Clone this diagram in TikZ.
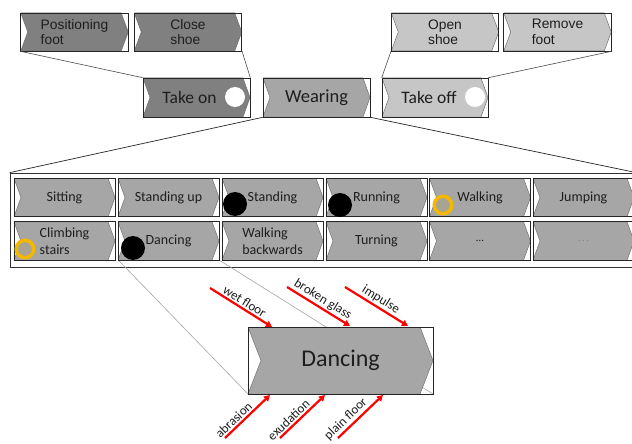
\documentclass[tikz,border=0pt]{standalone}
\usepackage{fontspec}
\setmainfont{Carlito}
\newfontfamily\arialf{Liberation Sans}
\usetikzlibrary{calc,arrows.meta}
\definecolor{dkg}{HTML}{808080}
\definecolor{mdg}{HTML}{A6A6A6}
\definecolor{ltg}{HTML}{C6C6C6}
\definecolor{txt}{HTML}{1E1E1E}
\definecolor{ringy}{HTML}{F5B800}
\definecolor{ringin}{HTML}{A9A394}
\definecolor{arrred}{HTML}{FF0000}
\tikzset{
  chevfill/.store in=\chevfill, chevfill=mdg,
  chevd/.store in=\chevd, chevd=7pt,
  chev/.style={draw=black!85, line width=0.6pt, inner sep=0pt, align=left, text=txt,
    path picture={
      \fill[fill=\chevfill, draw=black!55, line width=0.5pt]
        (path picture bounding box.north west)
        -- ([xshift=-\chevd]path picture bounding box.north east)
        -- (path picture bounding box.east)
        -- ([xshift=-\chevd]path picture bounding box.south east)
        -- (path picture bounding box.south west)
        -- ([xshift=\chevd]path picture bounding box.west) -- cycle;
    }},
  topbox/.style={chev, minimum width=107.5pt, minimum height=38pt, font=\arialf\fontsize{13.8}{15.5}\selectfont},
  midbox/.style={chev, minimum width=107pt, minimum height=39pt, font=\fontsize{17.5}{19}\selectfont},
  cell/.style={chev, minimum width=101pt, minimum height=38.5pt, font=\fontsize{14}{16.5}\selectfont},
  topline/.style={draw=black!70, line width=0.6pt},
  wearline/.style={draw=black!85, line width=0.7pt},
  danceline/.style={draw=black!35, line width=0.6pt},
  wdot/.style={circle, fill=white, minimum size=20pt, inner sep=0pt},
  bdot/.style={circle, fill=black, minimum size=24pt, inner sep=0pt},
  ydot/.style={circle, fill=ringin, draw=ringy, line width=3.5pt, minimum size=17.5pt, inner sep=0pt},
  redarrow/.style={draw=arrred, line width=2.2pt, -{Triangle[length=6pt,width=6.5pt]}},
  rlab/.style={sloped, above, inner sep=1.5pt, font=\fontsize{13}{15}\selectfont, text=txt},
}
\begin{document}
\begin{tikzpicture}[x=1pt, y=-1pt]
\clip (0,0) rectangle (632,444);
\fill[white] (0,0) rectangle (632,444);

% top row
\node[topbox, chevfill=dkg] (posf) at (74.5,32) {Positioning\\foot};
\node[topbox, chevfill=dkg] (close) at (188,32) {Close\\shoe};
\node[topbox, chevfill=ltg] (open) at (445,32) {Open\\shoe};
\node[topbox, chevfill=ltg] (remove) at (557.5,32) {Remove\\foot};

% middle row
\node[midbox, chevfill=dkg] (takeon) at (196.5,97.5) {Take on\hspace{14pt}};
\node[midbox, chevfill=mdg, font=\fontsize{18.5}{20}\selectfont] (wearing) at (316.5,97.5) {Wearing};
\node[midbox, chevfill=ltg, minimum width=106pt] (takeoff) at (435,97.5) {Take off\hspace{12pt}};
\node[wdot] (onDot) at (235,97) {};
\node[wdot] (offDot) at (475,97) {};

% connectors top
\draw[topline] (posf.south west) -- (takeon.north west);
\draw[topline] (close.south east) -- (takeon.north east);
\draw[topline] (open.south west) -- (takeoff.north west);
\draw[topline] (remove.south east) -- (takeoff.north east);

% frame
\node[draw=black!80, line width=0.7pt, minimum width=626pt, minimum height=94pt, inner sep=0pt] (frame) at (323,220) {};
\draw[wearline] (wearing.south west) -- (frame.north west);
\draw[wearline] (wearing.south east) -- (frame.north east);

% dancing connector lines (behind)
\coordinate (dsw) at (248,394);
\coordinate (dse) at (433,394);
\draw[danceline] (118.5,260.3) coordinate (csw) -- (dsw);
\draw[danceline] (219.5,260.3) coordinate (cse) -- (dse);

% cells
\node[cell] (c11) at (64.5,197.5) {Sitting};
\node[cell] (c12) at (168.5,197.5) {Standing up};
\node[cell] (c13) at (272.5,197.5) {Standing};
\node[cell] (c14) at (376.5,197.5) {Running};
\node[cell] (c15) at (480,197.5) {Walking};
\node[cell] (c16) at (583.5,197.5) {Jumping};
\node[cell] (c21) at (64.5,241) {Climbing\\stairs};
\node[cell] (c22) at (168.5,241) {Dancing};
\node[cell] (c23) at (272.5,241) {Walking\\backwards};
\node[cell] (c24) at (376.5,241) {Turning};
\node[cell] (c25) at (480,241) {\fontsize{11}{12}\selectfont\ldots};
\node[cell] (c26) at (583.5,241) {\fontsize{10}{12}\selectfont\textcolor{black!50}{.\,.\,.}};

\node[bdot] (d1) at (235,204) {};
\node[bdot] (d2) at (340,205) {};
\node[bdot] (d3) at (133,248) {};
\node[ydot] (y1) at (443,205) {};
\node[ydot] (y2) at (25,249) {};

% big dancing
\node[chev, chevd=13pt, minimum width=185pt, minimum height=67pt, font=\fontsize{24}{26}\selectfont] (bigd) at (340.5,360.5) {Dancing};

% red arrows
\coordinate (a1s) at (210,288); \coordinate (a1e) at (272,327);
\coordinate (a2s) at (287,287); \coordinate (a2e) at (350,326);
\coordinate (a3s) at (345,287); \coordinate (a3e) at (408,326);
\coordinate (b1s) at (225,438); \coordinate (b1e) at (270,395);
\coordinate (b2s) at (280,438); \coordinate (b2e) at (325,395);
\coordinate (b3s) at (338,438); \coordinate (b3e) at (383,395);
\draw[redarrow] (a1s) -- node[rlab, pos=0.5] {wet floor} (a1e);
\draw[redarrow] (a2s) -- node[rlab, pos=0.5] {broken glass} (a2e);
\draw[redarrow] (a3s) -- node[rlab, pos=0.5] {impulse} (a3e);
\draw[redarrow] (b1s) -- node[rlab, pos=0.3] {abrasion} (b1e);
\draw[redarrow] (b2s) -- node[rlab, pos=0.3] {exudation} (b2e);
\draw[redarrow] (b3s) -- node[rlab, pos=0.3] {plain floor} (b3e);
\end{tikzpicture}
\end{document}
